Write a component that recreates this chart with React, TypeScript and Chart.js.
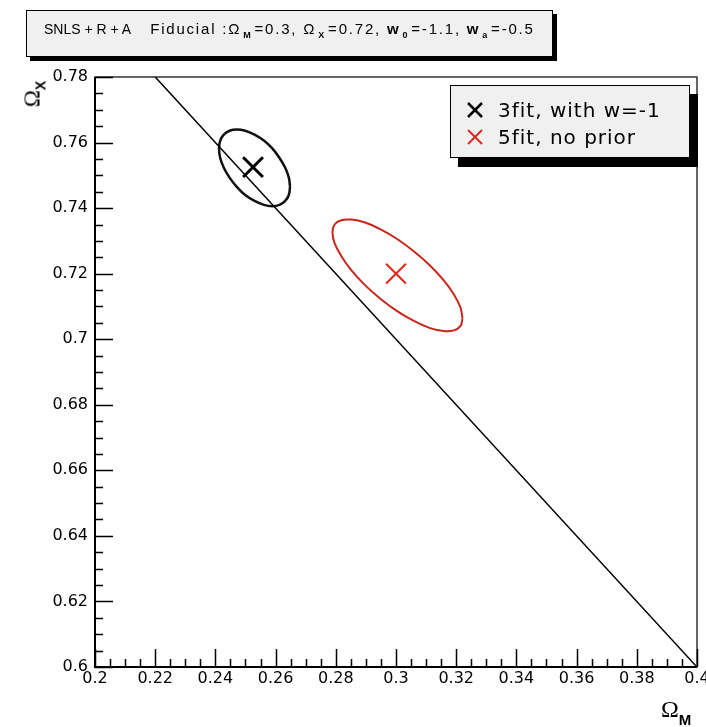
import React, { useEffect, useRef } from "react";
import { Chart, registerables } from "chart.js";

Chart.register(...registerables);

// Axis ranges and tick labels
const xTicks = [0.2, 0.22, 0.24, 0.26, 0.28, 0.3, 0.32, 0.34, 0.36, 0.38, 0.4];
const yTicks = [0.6, 0.62, 0.64, 0.66, 0.68, 0.7, 0.72, 0.74, 0.76, 0.78];
const minorDivisions = 4;

// Flat universe: Omega_M + Omega_X = 1
const flatLineOm = [0.22, 0.4];
const flatLineOx = [0.78, 0.6];

// 1-sigma contour, 3-parameter fit with w = -1 (Omega_M, Omega_X)
const contour3fitOm = [
  0.2648, 0.2644, 0.2632, 0.2613, 0.2589, 0.2561, 0.253, 0.2499, 0.2471, 0.2447, 0.2428, 0.2416,
  0.2412, 0.2416, 0.2428, 0.2447, 0.2471, 0.2499, 0.253, 0.2561, 0.2589, 0.2613, 0.2632, 0.2644, 0.2648,
];
const contour3fitOx = [
  0.7465, 0.744, 0.7422, 0.741, 0.7406, 0.741, 0.7422, 0.744, 0.7465, 0.7493, 0.7523, 0.7553,
  0.7582, 0.7606, 0.7624, 0.7636, 0.764, 0.7636, 0.7624, 0.7606, 0.7582, 0.7553, 0.7523, 0.7493, 0.7465,
];

// 1-sigma contour, 5-parameter fit without prior
const contour5fitOm = [
  0.3221, 0.3214, 0.3192, 0.3158, 0.3113, 0.3061, 0.3005, 0.2949, 0.2897, 0.2852, 0.2818, 0.2796,
  0.2789, 0.2796, 0.2818, 0.2852, 0.2897, 0.2949, 0.3005, 0.3061, 0.3113, 0.3158, 0.3192, 0.3214, 0.3221,
];
const contour5fitOx = [
  0.7064, 0.704, 0.7027, 0.7025, 0.7034, 0.7055, 0.7085, 0.7123, 0.7165, 0.721, 0.7254, 0.7293,
  0.7326, 0.735, 0.7363, 0.7365, 0.7356, 0.7335, 0.7305, 0.7267, 0.7225, 0.718, 0.7137, 0.7097, 0.7064,
];

// Best-fit points
const best3fit = [0.2525, 0.7525];
const best5fit = [0.3, 0.72];

const seriesLabels = ["3fit, with w=-1", "5fit, no prior"];
const seriesColors = ["#000000", "#e0281c"];

const pairs = (xs: number[], ys: number[]) => xs.map((x, i) => ({ x, y: ys[i] }));
const fmt = (v: number) => String(Number(v.toFixed(3)));

// Frame with inward major / minor ticks on the bottom and left axes
const frameTicks = {
  id: "frameTicks",
  afterDatasetsDraw(chart: any) {
    const { ctx, chartArea: a, scales } = chart;
    const sx = scales.x;
    const sy = scales.y;
    ctx.save();
    ctx.strokeStyle = "#000";
    ctx.lineWidth = 1.2;
    ctx.strokeRect(a.left, a.top, a.right - a.left, a.bottom - a.top);
    ctx.lineWidth = 2;
    ctx.beginPath();
    ctx.moveTo(a.left, a.top);
    ctx.lineTo(a.left, a.bottom);
    ctx.lineTo(a.right, a.bottom);
    ctx.stroke();

    ctx.lineWidth = 1.5;
    const major = 18;
    const minor = 8;
    ctx.beginPath();
    xTicks.forEach((v, i) => {
      const px = Math.round(sx.getPixelForValue(v)) + 0.5;
      ctx.moveTo(px, a.bottom);
      ctx.lineTo(px, a.bottom - major);
      if (i < xTicks.length - 1) {
        const step = (xTicks[i + 1] - v) / minorDivisions;
        for (let k = 1; k < minorDivisions; k++) {
          const mx = Math.round(sx.getPixelForValue(v + k * step)) + 0.5;
          ctx.moveTo(mx, a.bottom);
          ctx.lineTo(mx, a.bottom - minor);
        }
      }
    });
    yTicks.forEach((v, i) => {
      const py = Math.round(sy.getPixelForValue(v)) + 0.5;
      ctx.moveTo(a.left, py);
      ctx.lineTo(a.left + major, py);
      if (i < yTicks.length - 1) {
        const step = (yTicks[i + 1] - v) / minorDivisions;
        for (let k = 1; k < minorDivisions; k++) {
          const my = Math.round(sy.getPixelForValue(v + k * step)) + 0.5;
          ctx.moveTo(a.left, my);
          ctx.lineTo(a.left + minor, my);
        }
      }
    });
    ctx.stroke();
    ctx.restore();
  },
};

const tickFont = { family: '"DejaVu Sans", sans-serif', size: 16 };

function CrossMark({ color, width }: { color: string; width: number }) {
  return (
    <svg width="18" height="18" style={{ display: "block" }}>
      <line x1="2" y1="2" x2="16" y2="16" stroke={color} strokeWidth={width} />
      <line x1="16" y1="2" x2="2" y2="16" stroke={color} strokeWidth={width} />
    </svg>
  );
}

export default function App() {
  const canvasRef = useRef<HTMLCanvasElement | null>(null);

  useEffect(() => {
    document.body.style.margin = "0";
    const canvas = canvasRef.current;
    if (!canvas) return;
    const chart = new Chart(canvas, {
      type: "scatter",
      data: {
        datasets: [
          {
            data: pairs(flatLineOm, flatLineOx),
            showLine: true,
            borderColor: "#000",
            borderWidth: 1.5,
            pointRadius: 0,
          },
          {
            data: pairs(contour3fitOm, contour3fitOx),
            showLine: true,
            borderColor: "#111",
            borderWidth: 2.5,
            pointRadius: 0,
            tension: 0.4,
          },
          {
            data: pairs(contour5fitOm, contour5fitOx),
            showLine: true,
            borderColor: "#c8261c",
            borderWidth: 2,
            pointRadius: 0,
            tension: 0.4,
          },
          {
            data: [{ x: best3fit[0], y: best3fit[1] }],
            pointStyle: "crossRot",
            pointRadius: 14,
            borderColor: seriesColors[0],
            borderWidth: 3,
          },
          {
            data: [{ x: best5fit[0], y: best5fit[1] }],
            pointStyle: "crossRot",
            pointRadius: 14,
            borderColor: seriesColors[1],
            borderWidth: 2,
          },
        ],
      } as any,
      options: {
        animation: false,
        responsive: false,
        layout: { autoPadding: false, padding: { left: 0, right: 9, top: 77, bottom: 0 } },
        plugins: {
          legend: { display: false },
          tooltip: { enabled: false },
        },
        scales: {
          x: {
            type: "linear",
            min: xTicks[0],
            max: xTicks[xTicks.length - 1],
            grid: { display: false, drawTicks: false },
            border: { display: false },
            afterBuildTicks: (s: any) => {
              s.ticks = xTicks.map((value) => ({ value }));
            },
            afterFit: (s: any) => {
              s.height = 60;
              s.paddingLeft = 0;
              s.paddingRight = 0;
            },
            ticks: {
              color: "#000",
              font: tickFont,
              padding: 2,
              maxRotation: 0,
              autoSkip: false,
              callback: (v: any) => fmt(Number(v)),
            },
          },
          y: {
            type: "linear",
            min: yTicks[0],
            max: yTicks[yTicks.length - 1],
            grid: { display: false, drawTicks: false },
            border: { display: false },
            afterBuildTicks: (s: any) => {
              s.ticks = yTicks.map((value) => ({ value }));
            },
            afterFit: (s: any) => {
              s.width = 95;
              s.paddingTop = 0;
              s.paddingBottom = 0;
            },
            ticks: {
              color: "#000",
              font: tickFont,
              padding: 7,
              autoSkip: false,
              callback: (v: any) => fmt(Number(v)),
            },
          },
        },
      } as any,
      plugins: [frameTicks],
    });
    return () => chart.destroy();
  }, []);

  const sans = '"Liberation Sans", Arial, sans-serif';
  const wide = '"DejaVu Sans", sans-serif';
  const serif = '"Liberation Serif", "Times New Roman", serif';
  const subStyle: React.CSSProperties = {
    fontSize: "0.6em",
    fontWeight: "bold",
    verticalAlign: "-0.4em",
    lineHeight: 0,
    margin: "0 2px",
  };

  return (
    <div style={{ position: "relative", width: 706, height: 727, background: "#fff", overflow: "hidden" }}>
      <canvas ref={canvasRef} width={706} height={727} style={{ display: "block" }} />

      {/* Title box */}
      <div
        style={{
          position: "absolute",
          left: 26,
          top: 10,
          width: 527,
          height: 47,
          boxSizing: "border-box",
          border: "1px solid #000",
          background: "#f0f0f0",
          boxShadow: "4px 4px 0 #000",
          fontFamily: sans,
          fontSize: 14,
          paddingLeft: 17,
          paddingTop: 10,
          whiteSpace: "pre",
          lineHeight: "16px",
        }}
      >
        <span>{"SNLS + R + A"}</span>
        <span style={{ fontSize: 15, letterSpacing: 1.8, marginLeft: 19 }}>
          {"Fiducial :Ω"}
          <sub style={subStyle}>M</sub>
          {"=0.3, Ω"}
          <sub style={subStyle}>X</sub>
          {"=0.72, "}
          <b>w</b>
          <sub style={subStyle}>0</sub>
          {"=-1.1, "}
          <b>w</b>
          <sub style={subStyle}>a</sub>
          {"=-0.5"}
        </span>
      </div>

      {/* Legend */}
      <div
        style={{
          position: "absolute",
          left: 450,
          top: 85,
          width: 240,
          height: 73,
          boxSizing: "border-box",
          border: "1px solid #000",
          background: "#f0f0f0",
          boxShadow: "8px 9px 0 #000",
          fontFamily: wide,
          fontSize: 20,
          letterSpacing: 1,
          paddingTop: 10,
        }}
      >
        {seriesLabels.map((label, i) => (
          <div key={label} style={{ display: "flex", alignItems: "center", height: 27 }}>
            <div style={{ width: 44, display: "flex", justifyContent: "center", paddingLeft: 2 }}>
              <CrossMark color={seriesColors[i]} width={i === 0 ? 2.5 : 2} />
            </div>
            <span style={{ marginLeft: 1 }}>{label}</span>
          </div>
        ))}
      </div>

      {/* Y axis title */}
      <div
        style={{
          position: "absolute",
          left: 32,
          top: 94,
          transform: "translate(-50%, -50%) rotate(-90deg)",
          whiteSpace: "nowrap",
          fontFamily: serif,
          fontSize: 23,
          lineHeight: 1,
        }}
      >
        Ω<sub style={{ ...subStyle, fontFamily: sans, fontSize: 14, margin: 0 }}>X</sub>
      </div>

      {/* X axis title */}
      <div
        style={{
          position: "absolute",
          left: 661,
          top: 697,
          whiteSpace: "nowrap",
          fontFamily: serif,
          fontSize: 24,
          lineHeight: 1,
        }}
      >
        Ω
        <sub
          style={{
            fontFamily: sans,
            fontSize: 15,
            fontWeight: "bold",
            verticalAlign: "-0.55em",
            lineHeight: 0,
          }}
        >
          M
        </sub>
      </div>
    </div>
  );
}
